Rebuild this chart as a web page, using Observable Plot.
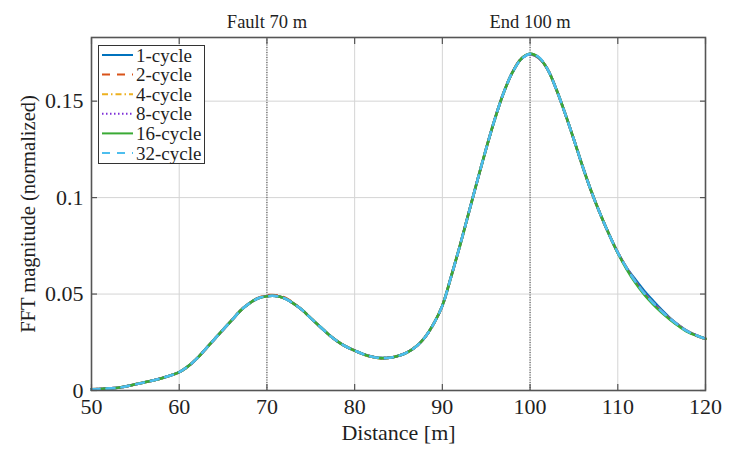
<!DOCTYPE html>
<html>
<head>
<meta charset="utf-8">
<script src="https://cdn.jsdelivr.net/npm/d3@7"></script>
<script src="https://cdn.jsdelivr.net/npm/@observablehq/plot@0.6"></script>
<style>
  html, body { margin: 0; padding: 0; background: #fff; }
  #wrap { position: relative; width: 737px; height: 457px; }
  #legend { position: absolute; left: 98px; top: 45px; }
</style>
</head>
<body>
<div id="wrap"></div>
<script>
// ---- data ----
const distance = [50,51,52,53,54,55,56,57,58,59,60,61,62,63,64,65,66,67,68,69,70,71,72,73,74,75,76,77,78,79,80,81,82,83,84,85,86,87,88,89,90,91,92,93,94,95,96,97,98,99,100,101,102,103,104,105,106,107,108,109,110,111,112,113,114,115,116,117,118,119,120];

const cycle1 = [0.0006,0.0008,0.0011,0.0014,0.0022,0.0032,0.0042,0.0052,0.0064,0.0078,
  0.0095,0.0125,0.0165,0.0215,0.0265,0.0315,0.0365,0.0415,0.0452,0.0478,
  0.0489,0.0490,0.0478,0.0452,0.0418,0.0375,0.0333,0.0292,0.0256,0.0228,
  0.0207,0.0188,0.0175,0.0168,0.0170,0.0180,0.0198,0.0228,0.0275,0.0345,
  0.0440,0.0590,0.0750,0.0920,0.1090,0.1255,0.1410,0.1545,0.1650,0.1720,
  0.1745,0.1725,0.1665,0.1560,0.1435,0.1300,0.1160,0.1030,0.0915,0.0810,
  0.0715,0.0637,0.0575,0.0517,0.0466,0.0418,0.0374,0.0337,0.0306,0.0285,
  0.0268];
const cycle2 = [0.0006,0.0008,0.0011,0.0014,0.0022,0.0032,0.0042,0.0052,0.0064,0.0078,
  0.0095,0.0125,0.0165,0.0215,0.0265,0.0315,0.0365,0.0415,0.0453,0.0480,
  0.0493,0.0494,0.0482,0.0454,0.0418,0.0375,0.0333,0.0292,0.0256,0.0228,
  0.0207,0.0188,0.0175,0.0168,0.0170,0.0180,0.0198,0.0228,0.0275,0.0345,
  0.0440,0.0590,0.0750,0.0920,0.1090,0.1255,0.1410,0.1545,0.1650,0.1720,
  0.1745,0.1725,0.1665,0.1560,0.1435,0.1300,0.1160,0.1030,0.0915,0.0810,
  0.0715,0.0635,0.0565,0.0505,0.0455,0.0410,0.0370,0.0335,0.0305,0.0284,
  0.0266];
const cycle4 = [0.0006,0.0008,0.0011,0.0014,0.0022,0.0032,0.0042,0.0052,0.0064,0.0078,
  0.0095,0.0125,0.0165,0.0215,0.0265,0.0315,0.0365,0.0415,0.0452,0.0478,
  0.0489,0.0490,0.0478,0.0452,0.0418,0.0375,0.0333,0.0292,0.0256,0.0228,
  0.0207,0.0187,0.0174,0.0166,0.0169,0.0180,0.0198,0.0228,0.0275,0.0345,
  0.0440,0.0590,0.0750,0.0920,0.1090,0.1255,0.1410,0.1545,0.1650,0.1720,
  0.1745,0.1725,0.1665,0.1560,0.1435,0.1300,0.1160,0.1030,0.0915,0.0810,
  0.0715,0.0635,0.0565,0.0505,0.0455,0.0410,0.0370,0.0335,0.0305,0.0285,
  0.0268];
const cycle8 = [0.0006,0.0008,0.0011,0.0014,0.0022,0.0032,0.0042,0.0052,0.0064,0.0078,
  0.0095,0.0125,0.0165,0.0215,0.0265,0.0315,0.0365,0.0415,0.0452,0.0478,
  0.0489,0.0490,0.0478,0.0452,0.0418,0.0375,0.0333,0.0292,0.0256,0.0228,
  0.0207,0.0188,0.0175,0.0168,0.0170,0.0180,0.0198,0.0228,0.0275,0.0345,
  0.0440,0.0590,0.0750,0.0920,0.1090,0.1255,0.1410,0.1545,0.1650,0.1719,
  0.1742,0.1723,0.1665,0.1560,0.1435,0.1300,0.1160,0.1030,0.0915,0.0810,
  0.0715,0.0635,0.0565,0.0505,0.0455,0.0410,0.0370,0.0335,0.0305,0.0285,
  0.0268];
const cycle16 = [0.0006,0.0008,0.0011,0.0014,0.0022,0.0032,0.0042,0.0052,0.0064,0.0078,
  0.0095,0.0125,0.0165,0.0215,0.0265,0.0315,0.0365,0.0415,0.0452,0.0478,
  0.0489,0.0490,0.0478,0.0452,0.0418,0.0375,0.0333,0.0292,0.0256,0.0228,
  0.0207,0.0188,0.0175,0.0168,0.0170,0.0180,0.0198,0.0228,0.0275,0.0345,
  0.0440,0.0590,0.0750,0.0920,0.1090,0.1255,0.1410,0.1545,0.1650,0.1720,
  0.1745,0.1725,0.1665,0.1560,0.1435,0.1300,0.1160,0.1030,0.0915,0.0810,
  0.0713,0.0630,0.0558,0.0498,0.0448,0.0404,0.0366,0.0332,0.0303,0.0284,
  0.0268];
const cycle32 = [0.0006,0.0008,0.0011,0.0014,0.0022,0.0032,0.0042,0.0052,0.0064,0.0078,
  0.0095,0.0125,0.0165,0.0215,0.0265,0.0315,0.0365,0.0415,0.0452,0.0478,
  0.0489,0.0490,0.0478,0.0452,0.0418,0.0375,0.0333,0.0292,0.0256,0.0228,
  0.0207,0.0188,0.0175,0.0168,0.0170,0.0180,0.0198,0.0228,0.0275,0.0345,
  0.0440,0.0590,0.0750,0.0920,0.1090,0.1255,0.1410,0.1545,0.1650,0.1718,
  0.1745,0.1728,0.1665,0.1560,0.1435,0.1300,0.1160,0.1030,0.0915,0.0810,
  0.0715,0.0635,0.0565,0.0505,0.0455,0.0410,0.0370,0.0335,0.0305,0.0285,
  0.0268];

const seriesNames = ["1-cycle","2-cycle","4-cycle","8-cycle","16-cycle","32-cycle"];
const seriesValues = [cycle1, cycle2, cycle4, cycle8, cycle16, cycle32];
const seriesColors = ["#0072BD","#D95319","#EDB120","#7E2FD8","#3AAA35","#4DBEEE"];
const seriesDash = [null, "8,7", "6,3,1.5,3", "1.5,2.5", null, "8,7"];

const xTicks = [50,60,70,80,90,100,110,120];
const xTickLabels = ["50","60","70","80","90","100","110","120"];
const yTicks = [0,0.05,0.1,0.15];
const yTickLabels = ["0","0.05","0.1","0.15"];
const markerX = [70,100];
const markerLabels = ["Fault 70 m","End 100 m"];
const xLabel = "Distance [m]";
const yLabel = "FFT magnitude (normalized)";

// ---- build ----
const tables = seriesValues.map((vals, k) =>
  distance.map((d, i) => ({x: d, y: vals[i], s: seriesNames[k]})));

const font = "'Liberation Serif', 'Times New Roman', serif";
const axisColor = "#555";
const ink = "#1f1f1f";

const lineMarks = tables.map((t, k) => Plot.line(t, {
  x: "x", y: "y", curve: "catmull-rom",
  stroke: seriesColors[k], strokeWidth: 2.6,
  strokeDasharray: seriesDash[k] || undefined
}));

const chart = Plot.plot({
  width: 737, height: 457,
  marginLeft: 91, marginRight: 32, marginTop: 37, marginBottom: 67,
  style: {fontFamily: font, fontSize: "22px", color: ink, background: "#fff"},
  x: {domain: [50, 120], label: null},
  y: {domain: [0, 0.183], label: null},
  marks: [
    Plot.gridX(xTicks, {stroke: "#d4d4d4", strokeOpacity: 1, strokeWidth: 1}),
    Plot.gridY(yTicks, {stroke: "#d4d4d4", strokeOpacity: 1, strokeWidth: 1}),
    Plot.ruleX(markerX, {stroke: "#444", strokeWidth: 1, strokeDasharray: "1,1.5"}),
    ...lineMarks,
    Plot.frame({stroke: axisColor, strokeWidth: 1.6}),
    // inward ticks on all sides
    Plot.axisX(xTicks, {anchor: "bottom", tickSize: -6, tickFormat: () => "", stroke: axisColor, strokeWidth: 1.2, label: null}),
    Plot.axisX(xTicks, {anchor: "top", tickSize: -6, tickFormat: () => "", stroke: axisColor, strokeWidth: 1.2, label: null}),
    Plot.axisY(yTicks, {anchor: "left", tickSize: -6, tickFormat: () => "", stroke: axisColor, strokeWidth: 1.2, label: null}),
    Plot.axisY(yTicks, {anchor: "right", tickSize: -6, tickFormat: () => "", stroke: axisColor, strokeWidth: 1.2, label: null}),
    // tick labels
    Plot.axisX(xTicks, {anchor: "bottom", tickSize: 0, tickPadding: 8, tickFormat: (d, i) => xTickLabels[i], fontSize: 22, fill: ink, label: null}),
    Plot.axisY(yTicks, {anchor: "left", tickSize: 0, tickPadding: 8, tickFormat: (d, i) => yTickLabels[i], fontSize: 22, fill: ink, label: null}),
    // marker labels above frame
    Plot.text(markerX, {x: d => d, text: (d, i) => markerLabels[i], frameAnchor: "top", lineAnchor: "middle", textAnchor: "middle", dy: -15, fontSize: 18.5, fill: ink}),
    // axis titles
    Plot.text([xLabel], {frameAnchor: "bottom", lineAnchor: "middle", textAnchor: "middle", dy: 42, fontSize: 22, fill: ink}),
    Plot.text([yLabel], {frameAnchor: "left", lineAnchor: "middle", textAnchor: "middle", rotate: -90, dx: -63, fontSize: 20.5, fill: ink})
  ]
});

const wrap = document.getElementById("wrap");
wrap.appendChild(chart);

// ---- legend ----
const rowH = 19.6, boxW = 106, boxH = 118;
const leg = d3.select(wrap).append("svg")
  .attr("id", "legend")
  .attr("width", boxW + 2).attr("height", boxH + 2)
  .style("font-family", font);
leg.append("rect").attr("x", 0.5).attr("y", 0.5).attr("width", boxW).attr("height", boxH)
  .attr("fill", "#fff").attr("stroke", "#333").attr("stroke-width", 1);
const rows = leg.selectAll("g.row").data(seriesNames).join("g")
  .attr("class", "row")
  .attr("transform", (d, i) => `translate(0, ${10 + i * rowH})`);
rows.append("line")
  .attr("x1", 4).attr("x2", 35).attr("y1", 0).attr("y2", 0)
  .attr("stroke", (d, i) => seriesColors[i])
  .attr("stroke-width", 2)
  .attr("stroke-dasharray", (d, i) => seriesDash[i]);
rows.append("text")
  .attr("x", 38).attr("y", 0).attr("dy", "0.35em")
  .attr("font-size", 19).attr("fill", ink)
  .text(d => d);
</script>
</body>
</html>
